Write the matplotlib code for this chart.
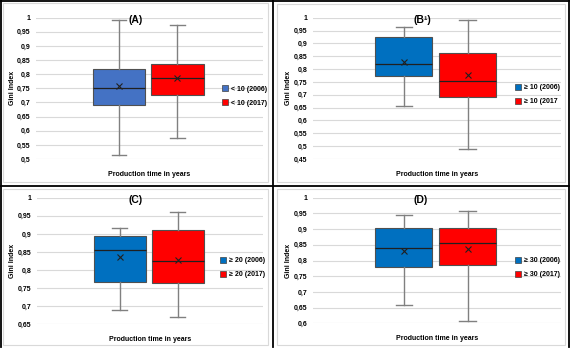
import matplotlib
matplotlib.use("Agg")
import matplotlib.pyplot as plt
from matplotlib.patches import Rectangle, Patch
from matplotlib.lines import Line2D
from matplotlib.ticker import MultipleLocator, FuncFormatter

plt.rcParams['font.family'] = ['Liberation Sans', 'DejaVu Sans']
plt.rcParams['font.weight'] = 'bold'

# ---- data (Gini index) ----
titles = ["(A)", "(B¹)", "(C)", "(D)"]

labels_A = ["< 10 (2006)", "< 10 (2017)"]
whislo_A = [0.515, 0.573]
q1_A = [0.692, 0.728]
med_A = [0.750, 0.786]
q3_A = [0.820, 0.837]
whishi_A = [0.993, 0.973]
mean_A = [0.759, 0.788]

labels_B = ["≥ 10 (2006)", "≥ 10 (2017"]
whislo_B = [0.658, 0.487]
q1_B = [0.772, 0.693]
med_B = [0.819, 0.755]
q3_B = [0.924, 0.864]
whishi_B = [0.965, 0.990]
mean_B = [0.827, 0.778]

labels_C = ["≥ 20 (2006)", "≥ 20 (2017)"]
whislo_C = [0.690, 0.671]
q1_C = [0.768, 0.765]
med_C = [0.856, 0.824]
q3_C = [0.894, 0.911]
whishi_C = [0.917, 0.960]
mean_C = [0.835, 0.829]

labels_D = ["≥ 30 (2006)", "≥ 30 (2017)"]
whislo_D = [0.657, 0.608]
q1_D = [0.779, 0.785]
med_D = [0.840, 0.855]
q3_D = [0.903, 0.903]
whishi_D = [0.944, 0.959]
mean_D = [0.830, 0.838]

ymin = [0.5, 0.45, 0.65, 0.6]

W, H = 572, 355
fig = plt.figure(figsize=(W / 100, H / 100), dpi=100)


def rect(x0, y0, x1, y1):
    return [x0 / W, 1 - y1 / H, (x1 - x0) / W, (y1 - y0) / H]


def fx(x):
    return x / W


def fy(y):
    return 1 - y / H


# table frame and chart-area borders
for (x0, y0, x1, y1) in [(3, 3, 268, 182), (277, 4, 565, 182),
                         (3, 189, 268, 345), (277, 189, 565, 345)]:
    fig.patches.append(Rectangle((fx(x0), fy(y1)), fx(x1 - x0), (y1 - y0) / H,
                                 transform=fig.transFigure, fill=False,
                                 ec="#d9d9d9", lw=0.8))
for (xa, ya, xb, yb) in [(0.5, 0.5, 569, 0.5), (0, 186, 569, 186),
                         (0.8, 0, 0.8, 347), (273, 0, 273, 347),
                         (569, 0, 569, 347)]:
    fig.lines.append(Line2D([fx(xa), fx(xb)], [fy(ya), fy(yb)],
                            transform=fig.transFigure, color="black", lw=1.3))

panels = [
    (labels_A, whislo_A, q1_A, med_A, q3_A, whishi_A, mean_A, "#4472C4",
     (36, 17.7, 263, 159), (136, 20), 12, (222, 96)),
    (labels_B, whislo_B, q1_B, med_B, q3_B, whishi_B, mean_B, "#0070C0",
     (313, 17.7, 561, 159), (422, 20), 289, (515, 94.5)),
    (labels_C, whislo_C, q1_C, med_C, q3_C, whishi_C, mean_C, "#0070C0",
     (37, 197.7, 263, 324.3), (136, 200), 12, (220, 267.5)),
    (labels_D, whislo_D, q1_D, med_D, q3_D, whishi_D, mean_D, "#0070C0",
     (313, 197.7, 561, 323.3), (421, 200), 289, (515, 267.5)),
]

fmt = FuncFormatter(lambda v, p: ("%g" % round(v, 2)).replace(".", ","))

for i, (labs, lo, q1, med, q3, hi, mn, blue, box, tpos, ylx, lpos) in enumerate(panels):
    ax = fig.add_axes(rect(*box))
    stats = []
    for k in range(2):
        stats.append(dict(label=labs[k], whislo=lo[k], q1=q1[k], med=med[k],
                          q3=q3[k], whishi=hi[k], mean=mn[k], fliers=[]))
    bp = ax.bxp(stats, positions=[0.366, 0.623], widths=0.23,
                showmeans=True, patch_artist=True, capwidths=0.065,
                boxprops=dict(edgecolor="#505050", lw=0.8),
                medianprops=dict(color="#202020", lw=0.9),
                whiskerprops=dict(color="#808080", lw=1.0),
                capprops=dict(color="#808080", lw=1.0),
                meanprops=dict(marker="x", markeredgecolor="#202020",
                               markersize=4, markeredgewidth=0.8))
    for patch, c in zip(bp["boxes"], [blue, "#FF0000"]):
        patch.set_facecolor(c)
    ax.set_xlim(0, 1)
    ax.set_ylim(ymin[i], 1)
    ax.yaxis.set_major_locator(MultipleLocator(0.05))
    ax.yaxis.set_major_formatter(fmt)
    ax.grid(axis="y", color="#d9d9d9", lw=0.8)
    ax.set_axisbelow(True)
    for s in ax.spines.values():
        s.set_visible(False)
    ax.set_xticks([])
    ax.tick_params(axis="y", length=0, pad=4, labelsize=5)
    for t in ax.get_yticklabels():
        t.set_fontweight("bold")

    fig.text(fx(tpos[0]), fy(tpos[1]), titles[i], ha="center", va="center",
             fontsize=7.5, fontweight="bold")
    fig.text(fx(ylx), fy(box[1] + (box[3] - box[1]) * 0.5), "Gini Index",
             rotation=90, ha="center", va="center", fontsize=5, fontweight="bold")
    fig.text(fx((box[0] + box[2]) / 2), fy(box[3] + 15), "Production time in years",
             ha="center", va="center", fontsize=5, fontweight="bold")

    handles = [Patch(facecolor=blue, edgecolor="#404040", lw=0.5),
               Patch(facecolor="#FF0000", edgecolor="#404040", lw=0.5)]
    ax.legend(handles, labs, loc="center left",
              bbox_to_anchor=(fx(lpos[0]), fy(lpos[1])),
              bbox_transform=fig.transFigure, frameon=False,
              handlelength=0.9, handleheight=0.9, handletextpad=0.4,
              labelspacing=1.0, borderpad=0, borderaxespad=0,
              prop=dict(size=5, weight="bold"))

fig.savefig("out.png", dpi=100)
